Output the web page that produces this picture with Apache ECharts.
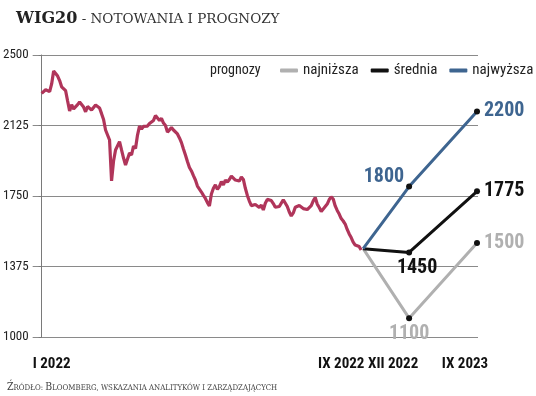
<!DOCTYPE html>
<html>
<head>
<meta charset="utf-8">
<script src="https://cdn.jsdelivr.net/npm/echarts@6/dist/echarts.min.js"></script>
<style>
  html, body { margin: 0; padding: 0; background: #fff; }
  #chart { width: 536px; height: 396px; }
</style>
</head>
<body>
<div id="chart"></div>
<script>
// WIG20 close, one point per step, Jan 2022 - end Sep 2022
var wigClose = [
  2296, 2304, 2315, 2315, 2305, 2346, 2415, 2412, 2388, 2364,
  2331, 2324, 2310, 2255, 2202, 2236, 2213, 2218, 2236, 2250,
  2258, 2223, 2198, 2226, 2222, 2207, 2200, 2234, 2231, 2218,
  2188, 2157, 2101, 2101, 2048, 1830, 1936, 1995, 2000, 2039,
  1995, 1952, 1915, 1915, 1979, 1968, 2016, 2003, 2074, 2122,
  2106, 2120, 2114, 2122, 2136, 2130, 2152, 2178, 2173, 2152,
  2163, 2138, 2125, 2090, 2088, 2114, 2101, 2101, 2080, 2059,
  2034, 2000, 1968, 1934, 1902, 1883, 1858, 1835, 1803, 1787,
  1771, 1753, 1737, 1715, 1697, 1761, 1791, 1809, 1786, 1800,
  1826, 1809, 1835, 1824, 1838, 1856, 1848, 1835, 1843, 1830,
  1851, 1838, 1791, 1753, 1723, 1699, 1707, 1705, 1710, 1689,
  1702, 1676, 1711, 1732, 1739, 1726, 1710, 1690, 1691, 1694,
  1697, 1730, 1729, 1694, 1665, 1644, 1660, 1690, 1686, 1699,
  1696, 1683, 1678, 1678, 1676, 1699, 1724, 1742, 1707, 1689,
  1668, 1678, 1694, 1707, 1731, 1745, 1734, 1697, 1673, 1654,
  1630, 1617, 1601, 1572, 1548, 1529, 1505, 1489, 1492, 1481,
  1463
];

// forecasts: start (end Sep 2022), XII 2022, IX 2023
var forecastX = [161, 184, 218];
var lowValues = [1470, 1100, 1500];
var midValues = [1470, 1450, 1775];
var highValues = [1470, 1800, 2200];

var xLabelPos = [5, 150, 176, 212];
var xLabels = ['I 2022', 'IX 2022', 'XII 2022', 'IX 2023'];
var yTicks = [1000, 1375, 1750, 2125, 2500];

var seriesNames = ['najniższa', 'średnia', 'najwyższa'];
var colors = { hist: '#b0355a', low: '#b0b0b0', mid: '#111111', high: '#3e6590' };

var narrow = '"Roboto Condensed"';
var slab = '"DejaVu Serif"';

function numLabel(color, pos, extra) {
  var l = {
    show: true,
    position: pos,
    distance: 4,
    color: color,
    fontFamily: narrow,
    fontWeight: 'bold',
    fontSize: 20,
    formatter: function (p) { return p.value[1]; }
  };
  for (var k in extra) { l[k] = extra[k]; }
  return l;
}

function forecastData(values, labels) {
  return values.map(function (v, k) {
    var item = { value: [forecastX[k], v] };
    if (k === 0) {
      item.symbol = 'none';
    } else {
      item.itemStyle = { color: '#111' };
      item.label = labels[k - 1];
    }
    return item;
  });
}

var histData = wigClose.map(function (v, i) { return [i, v]; });

var option = {
  animation: false,
  title: {
    left: 11,
    top: 6,
    text: '{a|WIG20}{b| - NOTOWANIA I PROGNOZY}',
    textStyle: {
      rich: {
        a: { fontFamily: slab, fontWeight: 'bold', fontSize: 16, color: '#222' },
        b: { fontFamily: slab, fontWeight: 'normal', fontSize: 13.5, color: '#333' }
      }
    }
  },
  graphic: [
    {
      type: 'text',
      left: 210,
      top: 63,
      style: { text: 'prognozy', font: '14px "Roboto Condensed"', fill: '#222' }
    },
    {
      type: 'text',
      left: 7,
      top: 382,
      style: {
        text: '{c|Ź}{s|RÓDŁO: }{c|B}{s|LOOMBERG, WSKAZANIA ANALITYKÓW I ZARZĄDZAJĄCYCH}',
        rich: {
          c: { font: '10.5px "DejaVu Serif Condensed"', fill: '#444' },
          s: { font: '7.8px "DejaVu Serif Condensed"', fill: '#444' }
        }
      }
    }
  ],
  legend: {
    data: seriesNames,
    left: 280,
    top: 63,
    width: 256,
    padding: 0,
    itemWidth: 18,
    itemHeight: 4,
    itemGap: 12,
    icon: 'roundRect',
    textStyle: { fontFamily: narrow, fontSize: 15, color: '#222' }
  },
  grid: { left: 32, right: 58, top: 55, bottom: 59 },
  xAxis: {
    type: 'value',
    min: -4.5,
    max: 218.5,
    splitLine: { show: false },
    axisLine: { show: false },
    axisTick: { show: false },
    axisLabel: {
      customValues: xLabelPos,
      margin: 20,
      fontFamily: narrow,
      fontWeight: 'bold',
      fontSize: 15,
      color: '#111',
      formatter: function (v) { return xLabels[xLabelPos.indexOf(v)]; }
    }
  },
  yAxis: {
    type: 'value',
    min: yTicks[0],
    max: yTicks[yTicks.length - 1],
    interval: 375,
    axisLine: { show: true, lineStyle: { color: '#7a7a7a', width: 1 } },
    axisTick: { show: true, length: 3, lineStyle: { color: '#7a7a7a' } },
    splitLine: { lineStyle: { color: '#8a8a8a', width: 1 } },
    axisLabel: {
      margin: 4, fontFamily: narrow, fontSize: 13, color: '#222',
      formatter: function (v) { return String(v); }
    }
  },
  series: [
    {
      name: 'WIG20',
      type: 'line',
      data: histData,
      showSymbol: false,
      lineStyle: { color: colors.hist, width: 3.2 },
      itemStyle: { color: colors.hist },
      z: 3
    },
    {
      name: seriesNames[0],
      type: 'line',
      data: forecastData(lowValues, [
        numLabel(colors.low, 'bottom', { distance: 3 }),
        numLabel(colors.low, 'right', {})
      ]),
      symbol: 'circle',
      symbolSize: 6,
      lineStyle: { color: colors.low, width: 3 },
      itemStyle: { color: colors.low },
      z: 2
    },
    {
      name: seriesNames[1],
      type: 'line',
      data: forecastData(midValues, [
        numLabel('#111', 'bottom', { distance: 3, offset: [8, 0] }),
        numLabel('#111', 'right', {})
      ]),
      symbol: 'circle',
      symbolSize: 6,
      lineStyle: { color: colors.mid, width: 3 },
      itemStyle: { color: colors.mid },
      z: 4
    },
    {
      name: seriesNames[2],
      type: 'line',
      data: forecastData(highValues, [
        numLabel(colors.high, 'left', { distance: 2, offset: [0, -10] }),
        numLabel(colors.high, 'right', {})
      ]),
      symbol: 'circle',
      symbolSize: 6,
      lineStyle: { color: colors.high, width: 3 },
      itemStyle: { color: colors.high },
      z: 4
    }
  ]
};

var chart = echarts.init(document.getElementById('chart'));
chart.setOption(option);
</script>
</body>
</html>
